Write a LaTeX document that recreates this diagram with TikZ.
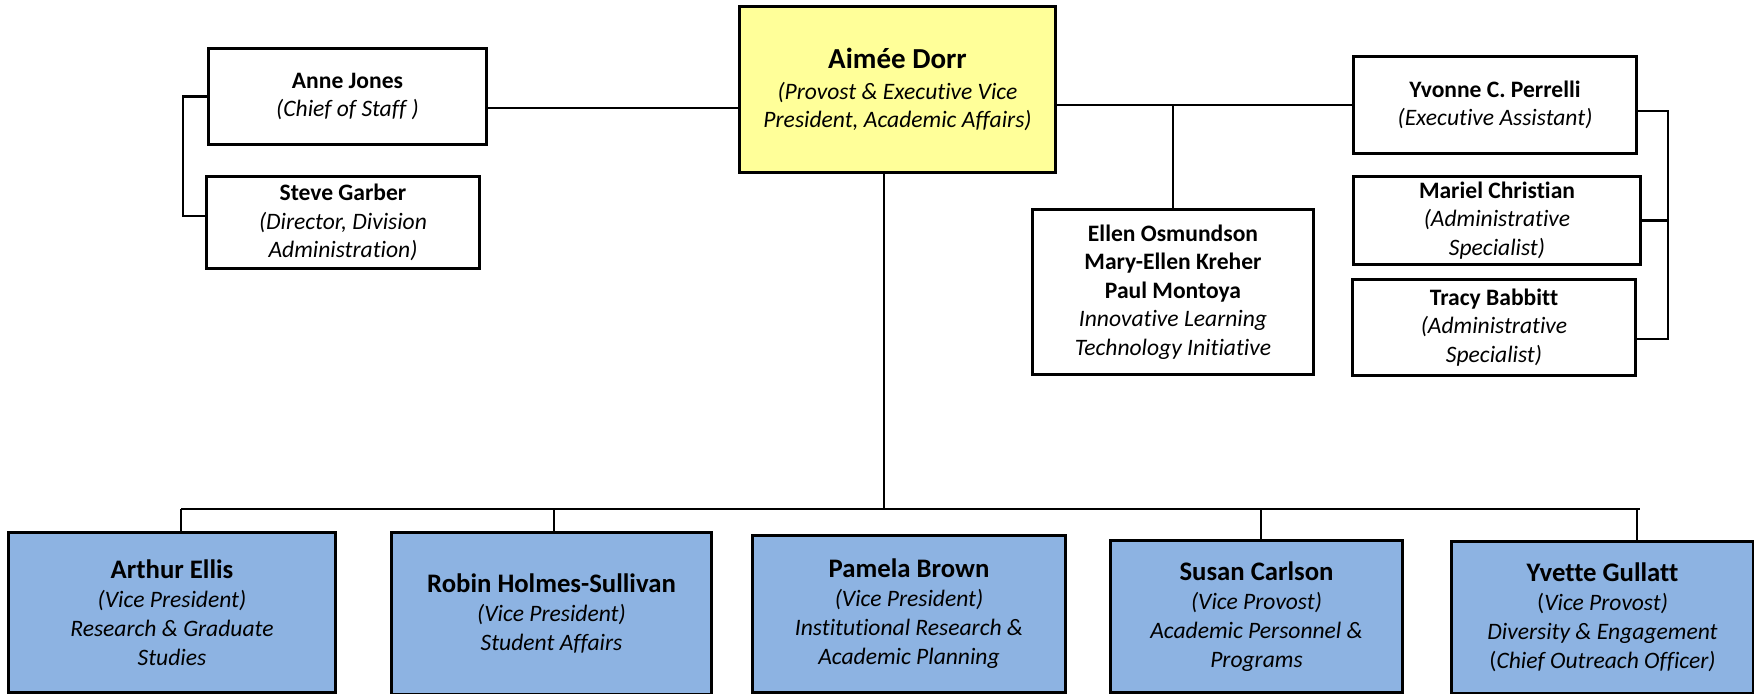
\documentclass[tikz,border=0pt]{standalone}
\usepackage{fontspec}
\setmainfont[Ligatures=NoCommon]{Carlito}
\usepackage{tikz}

\definecolor{provostyellow}{RGB}{255,255,153}
\definecolor{vpblue}{RGB}{141,179,226}
\newcommand{\vpname}[1]{{\fontsize{7.6}{8.25}\selectfont\bfseries #1}}

\begin{document}
\begin{tikzpicture}[x=0.01cm,y=-0.01cm,
    person/.style={draw,line width=0.85pt,align=center,inner sep=0pt,
      font=\fontsize{6.7}{8.1}\selectfont},
    provost/.style={person,fill=provostyellow},
    vp/.style={person,fill=vpblue,font=\fontsize{6.7}{8.25}\selectfont},
    link/.style={line width=0.6pt}]
  \useasboundingbox (0,0) rectangle (1754,694);

  \node[provost,minimum width=3.15cm,minimum height=1.65cm] (aimee) at (897.5,89.5)
    {{\fontsize{8.25}{8.1}\selectfont\bfseries Aimée Dorr}\\[0.6pt]
     \textit{(Provost \& Executive Vice}\\\textit{President, Academic Affairs)}};

  \node[person,minimum width=2.77cm,minimum height=0.95cm] (anne) at (347.5,96.5)
    {\textbf{Anne Jones}\\\textit{(Chief of Staff )}};
  \node[person,minimum width=2.72cm,minimum height=0.91cm] (steve) at (343,222.5)
    {\textbf{Steve Garber}\\\textit{(Director, Division}\\\textit{Administration)}};

  \node[person,minimum width=2.80cm,minimum height=1.64cm] (ellen) at (1173,292)
    {\textbf{Ellen Osmundson}\\\textbf{Mary-Ellen Kreher}\\\textbf{Paul Montoya}\\
     \textit{Innovative Learning}\\\textit{Technology Initiative}};

  \node[person,minimum width=2.82cm,minimum height=0.96cm] (yvonne) at (1495,105)
    {\textbf{Yvonne C. Perrelli}\\\textit{(Executive Assistant)}};
  \node[person,minimum width=2.86cm,minimum height=0.87cm] (mariel) at (1497,220.5)
    {\textbf{Mariel Christian}\\\textit{(Administrative}\\\textit{Specialist)}};
  \node[person,minimum width=2.82cm,minimum height=0.95cm] (tracy) at (1494,327.5)
    {\textbf{Tracy Babbitt}\\\textit{(Administrative}\\\textit{Specialist)}};

  % vice presidents and vice provosts
  \node[vp,minimum width=3.26cm,minimum height=1.59cm] (arthur) at (172,612.5)
    {\vpname{Arthur Ellis}\\\textit{(Vice President)}\\\textit{Research \& Graduate}\\\textit{Studies}};
  \node[vp,minimum width=3.19cm,minimum height=1.61cm] (robin) at (551.5,613.5)
    {\vpname{Robin Holmes-Sullivan}\\\textit{(Vice President)}\\\textit{Student Affairs}};
  \node[vp,minimum width=3.12cm,minimum height=1.56cm] (pamela) at (909,614)
    {\vpname{Pamela Brown}\\\textit{(Vice President)}\\\textit{Institutional Research \&}\\\textit{Academic Planning}};
  \node[vp,minimum width=2.91cm,minimum height=1.51cm] (susan) at (1256.5,616.5)
    {\vpname{Susan Carlson}\\\textit{(Vice Provost)}\\\textit{Academic Personnel \&}\\\textit{Programs}};
  \node[vp,minimum width=3.01cm,minimum height=1.51cm] (yvette) at (1602.5,617.5)
    {\vpname{Yvette Gullatt}\\{\upshape(}\textit{Vice Provost)}\\\textit{Diversity \& Engagement}\\
     {\upshape(}\textit{Chief Outreach Officer)}};

  \coordinate (lbr) at (183,0);
  \coordinate (rbr) at (1668,0);
  \coordinate (busW) at (181,509);
  \coordinate (busE) at (1640,509);

  \draw[link] (anne.west) -- (anne.west -| lbr) |- ([yshift=0.065cm]steve.west);
  \draw[link] ([yshift=-0.115cm]anne.east) -- ([yshift=-0.115cm]anne.east -| aimee.west);
  \draw[link] (aimee.east |- yvonne.west) -- (yvonne.west);
  \draw[link] (ellen.north) -- (ellen.north |- yvonne.west);
  \draw[link] ([yshift=-0.06cm]yvonne.east) -- ([yshift=-0.06cm]yvonne.east -| rbr)
    |- ([yshift=-0.115cm]tracy.east);
  \draw[link] (mariel.east) -- (mariel.east -| rbr);

  \draw[link] ([xshift=-0.135cm]aimee.south) -- ([xshift=-0.135cm]aimee.south |- busW);
  \draw[link,line width=0.8pt] (busW) -- (busE);
  \draw[link] ([xshift=0.09cm]arthur.north) -- ([xshift=0.09cm]arthur.north |- busW);
  \draw[link] ([xshift=0.025cm]robin.north) -- ([xshift=0.025cm]robin.north |- busW);
  \draw[link] ([xshift=0.045cm]susan.north) -- ([xshift=0.045cm]susan.north |- busW);
  \draw[link] ([xshift=0.345cm]yvette.north) -- ([xshift=0.345cm]yvette.north |- busW);
\end{tikzpicture}
\end{document}
